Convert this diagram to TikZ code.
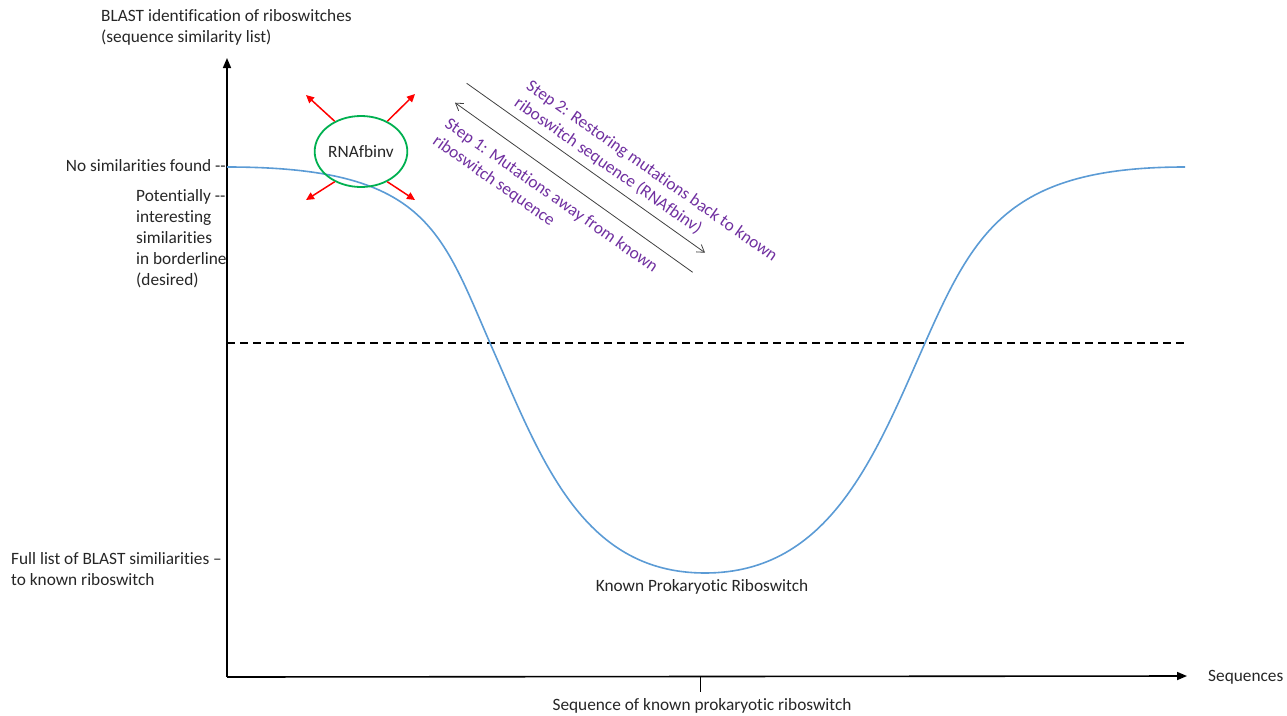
\documentclass[tikz,border=0pt]{standalone}
\usepackage{fontspec}
\setmainfont{Carlito}[Ligatures={TeX,NoCommon}]
\usetikzlibrary{arrows.meta,shapes.geometric}
\definecolor{curveblue}{HTML}{5B9BD5}
\definecolor{circgreen}{HTML}{00B050}
\definecolor{steppurple}{HTML}{7030A0}
\definecolor{arrgray}{HTML}{404040}
\begin{document}
\begin{tikzpicture}[x=1pt,y=-1pt,
  every node/.style={font=\fontsize{17.3}{21}\selectfont, inner sep=0pt, text=black!85},
  axisline/.style={line width=1.6pt, -{Triangle[length=10pt,width=8pt]}},
  curveline/.style={curveblue, line width=1.6pt},
  dashline/.style={line width=1.5pt, dash pattern=on 8pt off 5pt},
  redarrow/.style={red, line width=1.5pt, -{Triangle[length=8pt,width=7.5pt]}},
  steparrow/.style={arrgray, line width=0.8pt, -{Straight Barb[length=7pt,width=9pt]}},
  steptext/.style={text=steppurple, rotate=-35, align=left},
  circ/.style={ellipse, draw=circgreen, line width=1.8pt, minimum width=80pt, minimum height=71pt}
]
\useasboundingbox (0,0) rectangle (1287,715);

% axes
\coordinate (O) at (227,677);
\coordinate (ytop) at (227,58);
\coordinate (xend) at (1187,676);
\coordinate (ybot) at (227,677);
\draw[axisline] (ybot) -- (ytop);
\draw[axisline] (O) -- (xend);
\coordinate (tickT) at (700,676);
\coordinate (tickB) at (700,692);
\draw[line width=1pt] (tickT) -- (tickB);

% dashed threshold
\coordinate (dl) at (227,343);
\coordinate (dr) at (1185,343);
\draw[dashline] (dl) -- (dr);

% curve
\coordinate (c0) at (227,167);
\coordinate (c1) at (490,343);
\coordinate (c2) at (705,573);
\coordinate (c3) at (925,343);
\coordinate (c4) at (1185,167);
\draw[curveline] (c0) .. controls (425,167) and (440,228) .. (c1)
  .. controls (540,456) and (580,573) .. (c2)
  .. controls (830,573) and (875,456) .. (c3)
  .. controls (975,230) and (1010,167) .. (c4);

% labels on axes
\node[anchor=north west, align=left] (ytitle) at (101,9.3) {BLAST identification of riboswitches\\(sequence similarity list)};
\node[anchor=base east] (nosim) at (226,171.7) {No similarities found -{}-};
\node[anchor=north west, align=left] (potent) at (136,189) {Potentially -{}-\\interesting\\similarities\\in borderline\\(desired)};
\node[anchor=north west, align=left] (fulllist) at (11,552.7) {Full list of BLAST similiarities \textendash\\to known riboswitch};
\node[anchor=base] (known) at (702,591.7) {Known Prokaryotic Riboswitch};
\node[anchor=base] (seqknown) at (702,710) {Sequence of known prokaryotic riboswitch};
\node[anchor=base west] (seqs) at (1208,681.7) {Sequences};

% RNAfbinv circle
\node[circ] (rna) at (361,151.5) {RNAfbinv};
\coordinate (tl) at (306,95);
\coordinate (tr) at (415,94);
\coordinate (bl) at (306,200);
\coordinate (br) at (415,200);
\draw[redarrow] (rna.131) -- (tl);
\draw[redarrow] (rna.49) -- (tr);
\draw[redarrow] (rna.229) -- (bl);
\draw[redarrow] (rna.311) -- (br);

% step arrows
\coordinate (s2a) at (466.7,83.3);
\coordinate (s2b) at (705,252.7);
\coordinate (s1a) at (692.7,272.3);
\coordinate (s1b) at (455,102.7);
\draw[steparrow] (s2a) -- (s2b);
\draw[steparrow] (s1a) -- (s1b);

\node[steptext] (s2lbl) at (645.7,180) {Step 2: Restoring mutations back to known\\riboswitch sequence (RNAfbinv)};
\node[steptext] (s1lbl) at (545.2,204.5) {Step 1: Mutations away from known\\riboswitch sequence};
\end{tikzpicture}
\end{document}
